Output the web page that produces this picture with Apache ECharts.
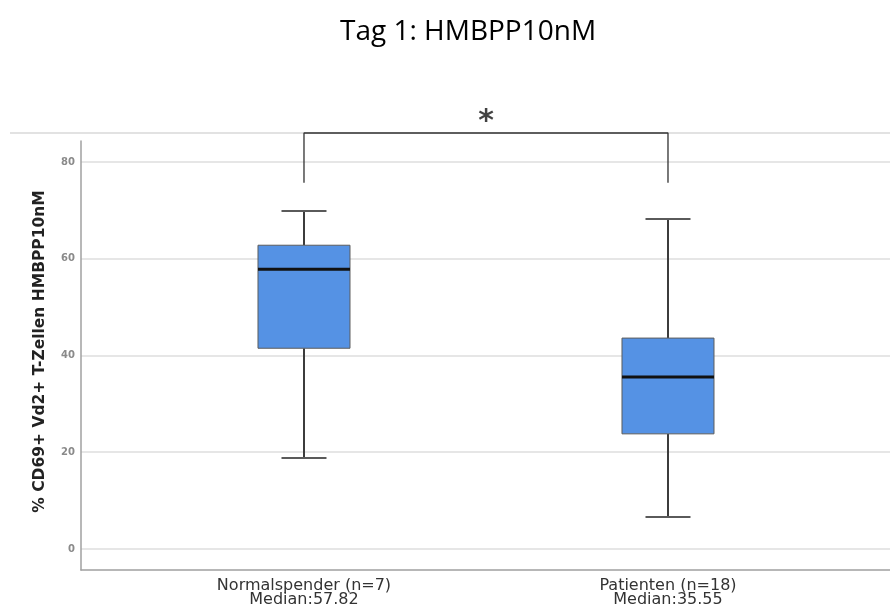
<!DOCTYPE html>
<html>
<head>
<meta charset="utf-8">
<script src="https://cdn.jsdelivr.net/npm/echarts@6/dist/echarts.min.js"></script>
<style>
  html, body { margin: 0; padding: 0; background: #fff; }
  #chart { width: 890px; height: 611px; }
</style>
</head>
<body>
<div id="chart"></div>
<script>
// Groups and their box statistics: [min, Q1, median, Q3, max]
const groups = ['Normalspender (n=7)', 'Patienten (n=18)'];
const medianLabels = ['Median:57.82', 'Median:35.55'];
const mins    = [18.8, 6.6];
const q1s     = [41.5, 23.8];
const medians = [57.82, 35.55];
const q3s     = [62.8, 43.6];
const maxs    = [69.9, 68.2];

// Y axis ticks
const yTicks = [0, 20, 40, 60, 80];

// Significance bracket between the two groups
const bracketLegY = 75.7;
const bracketTopY = 86;
const starY = 88.2;
const starText = '*';

const boxData = groups.map((g, i) => [i, mins[i], q1s[i], medians[i], q3s[i], maxs[i]]);

const chart = echarts.init(document.getElementById('chart'), null, { renderer: 'canvas' });

const BOX_HALF = 46;
const CAP_HALF = 22.5;

function renderBox(params, api) {
  const x = api.value(0);
  const pMin = api.coord([x, api.value(1)]);
  const pQ1  = api.coord([x, api.value(2)]);
  const pMed = api.coord([x, api.value(3)]);
  const pQ3  = api.coord([x, api.value(4)]);
  const pMax = api.coord([x, api.value(5)]);
  const cx = pMed[0];
  const whisker = { stroke: '#3c3c3c', lineWidth: 2 };
  const cap = { stroke: '#5a5a5a', lineWidth: 2 };
  return {
    type: 'group',
    children: [
      { type: 'line', shape: { x1: cx, y1: pMax[1], x2: cx, y2: pQ3[1] }, style: whisker },
      { type: 'line', shape: { x1: cx, y1: pQ1[1], x2: cx, y2: pMin[1] }, style: whisker },
      { type: 'line', shape: { x1: cx - CAP_HALF, y1: pMax[1], x2: cx + CAP_HALF, y2: pMax[1] }, style: cap },
      { type: 'line', shape: { x1: cx - CAP_HALF, y1: pMin[1], x2: cx + CAP_HALF, y2: pMin[1] }, style: cap },
      { type: 'rect', shape: { x: cx - BOX_HALF, y: pQ3[1], width: BOX_HALF * 2, height: pQ1[1] - pQ3[1] },
        style: { fill: '#5592e4', stroke: '#5c5c5c', lineWidth: 1 } },
      { type: 'line', shape: { x1: cx - BOX_HALF, y1: pMed[1], x2: cx + BOX_HALF, y2: pMed[1] },
        style: { stroke: '#111', lineWidth: 3 } }
    ]
  };
}

const option = {
  animation: false,
  backgroundColor: '#ffffff',
  title: {
    text: 'Tag 1: HMBPP10nM',
    left: 335,
    top: 13,
    textStyle: { fontFamily: 'Open Sans', fontWeight: 'normal', fontSize: 28, color: '#000' }
  },
  graphic: [
    { type: 'line', shape: { x1: 10, y1: 133, x2: 890, y2: 133 }, style: { stroke: '#e2e2e2', lineWidth: 2 }, z: 0 }
  ],
  grid: { left: 81, right: 0, top: 141, bottom: 41 },
  xAxis: {
    type: 'value',
    min: -0.6126,
    max: 1.6099,
    axisLine: { show: true, onZero: false, lineStyle: { color: '#a0a0a0', width: 1.5 } },
    axisTick: { show: false },
    splitLine: { show: false },
    axisLabel: {
      customValues: [0, 1],
      margin: 9,
      fontFamily: 'DejaVu Sans',
      fontSize: 16,
      lineHeight: 14,
      color: '#333',
      formatter: v => {
        const i = Math.round(v);
        return groups[i] + '\n' + medianLabels[i];
      }
    }
  },
  yAxis: {
    type: 'value',
    min: -4.35,
    max: 84.35,
    name: '% CD69+ Vd2+ T-Zellen HMBPP10nM',
    nameLocation: 'middle',
    nameGap: 33,
    nameTextStyle: { fontFamily: 'DejaVu Sans', fontWeight: 'bold', fontSize: 15.5, color: '#222', padding: [0, 0, 0, 8] },
    axisLine: { show: true, onZero: false, lineStyle: { color: '#a0a0a0', width: 1.5 } },
    axisTick: { show: false, customValues: yTicks },
    splitLine: { show: true, lineStyle: { color: '#dedede', width: 1.5 } },
    axisLabel: {
      customValues: yTicks,
      margin: 6,
      fontFamily: 'DejaVu Sans',
      fontWeight: 'bold',
      fontSize: 10,
      color: '#8a8a8a'
    }
  },
  series: [
    {
      type: 'custom',
      renderItem: renderBox,
      data: boxData,
      encode: { x: 0, y: [1, 2, 3, 4, 5] },
      z: 3
    },
    {
      type: 'line',
      data: [[0, bracketLegY], [0, bracketTopY], [1, bracketTopY], [1, bracketLegY]],
      symbol: 'none',
      clip: false,
      lineStyle: { color: '#333', width: 1.3 },
      z: 4
    },
    {
      type: 'scatter',
      data: [[0.5, starY]],
      symbolSize: 0,
      clip: false,
      label: {
        show: true,
        position: 'inside',
        formatter: starText,
        fontFamily: 'DejaVu Sans',
        fontWeight: 'bold',
        fontSize: 30,
        color: '#111'
      }
    }
  ]
};

chart.setOption(option);
</script>
</body>
</html>
